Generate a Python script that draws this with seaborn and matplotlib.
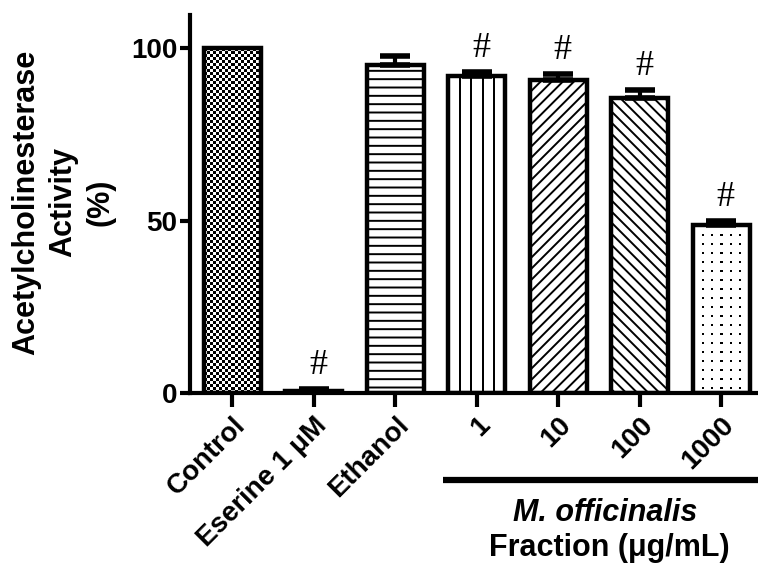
import numpy as np
import pandas as pd
import matplotlib
matplotlib.use("Agg")
import matplotlib.pyplot as plt
import seaborn as sns

# Acetylcholinesterase activity (% of control), mean and SEM per group
groups = ["Control", "Eserine 1 \u03bcM", "Ethanol", "1", "10", "100", "1000"]
activity = [100.0, 0.6, 95.2, 91.8, 90.8, 85.5, 48.7]
sem = [0.0, 0.5, 2.6, 1.4, 1.6, 2.4, 1.3]
significant = [False, True, False, True, True, True, True]
yticks = [0, 50, 100]

# fill style for each bar
fills = ["checker", "", "--", "vlines", "///", "\\\\\\", "dots"]

sns.set_style("ticks")
plt.rcParams["font.family"] = ["Liberation Sans", "DejaVu Sans"]
plt.rcParams["hatch.linewidth"] = 1.4
plt.rcParams["hatch.color"] = "black"
for key in ("text.color", "axes.labelcolor", "xtick.color", "ytick.color",
            "axes.edgecolor"):
    plt.rcParams[key] = "black"

df = pd.DataFrame({"group": groups, "activity": activity})

W, H = 758, 573
fig = plt.figure(figsize=(W / 100, H / 100), dpi=100)
ax = fig.add_axes([190 / W, 1 - 393 / H, 1 - 190 / W, (393 - 15) / H])

sns.barplot(data=df, x="group", y="activity", order=groups, color="white",
            edgecolor="black", linewidth=3.2, width=0.7, errorbar=None,
            saturation=1, ax=ax)

ax.set_xlim(-0.52, 6.45)
ax.set_ylim(0, 109.6)
fig.canvas.draw()

def pattern_image(kind, wpx, hpx):
    yy, xx = np.mgrid[0:hpx, 0:wpx]
    if kind == "checker":
        return ((xx // 3 + yy // 3) % 2).astype(float)
    if kind == "vlines":
        return np.where((xx % 11) < 2, 0.0, 1.0)
    if kind == "dots":
        return np.where(((xx % 9) < 2) & ((yy % 9) < 2), 0.0, 1.0)
    return np.ones((hpx, wpx))

for patch, fill in zip(ax.patches, fills):
    if fill in ("checker", "vlines", "dots"):
        x0, y0 = patch.get_x(), patch.get_y()
        w, h = patch.get_width(), patch.get_height()
        bb = patch.get_window_extent()
        img = pattern_image(fill, max(int(round(bb.width)), 1),
                            max(int(round(bb.height)), 1))
        im = ax.imshow(img, extent=[x0, x0 + w, y0, y0 + h], aspect="auto",
                       cmap="gray", vmin=0, vmax=1, interpolation="nearest",
                       origin="upper", zorder=patch.get_zorder() - 0.1)
        im.set_clip_path(patch)
        patch.set_facecolor("none")
    elif fill:
        patch.set_hatch(fill)
ax.set_xlim(-0.52, 6.45)
ax.set_ylim(0, 109.6)

# one-sided (upper) SEM bars
xpos = np.arange(len(groups))
for x, m, s in zip(xpos, activity, sem):
    if s > 0:
        ax.errorbar(x, m, yerr=[[0], [s]], fmt="none", ecolor="black",
                    elinewidth=3, capsize=11, capthick=4, zorder=4)

# significance markers
for x, m, s, sig in zip(xpos, activity, sem, significant):
    if sig:
        ax.annotate("#", xy=(x, m + s), xytext=(3, 5), textcoords="offset points",
                    ha="center", va="bottom", fontsize=26,
                    family=["Liberation Serif", "DejaVu Serif"])

ax.set_yticks(yticks)
ax.set_xticks(xpos)
ax.set_xticklabels(groups, rotation=45, ha="right", va="top",
                   rotation_mode="anchor")
for lab in ax.get_xticklabels() + ax.get_yticklabels():
    lab.set_fontsize(20)
    lab.set_fontweight("bold")

ax.tick_params(axis="y", length=7, width=3, pad=2, direction="out")
ax.tick_params(axis="x", length=10, width=3, pad=4, direction="out")
ax.set_xlabel("")
ax.set_ylabel("Acetylcholinesterase\nActivity\n(%)", fontsize=22,
              fontweight="bold", linespacing=1.3)
ax.yaxis.set_label_coords(-0.132, 0.505)

for side in ("top", "right"):
    ax.spines[side].set_visible(False)
for side in ("left", "bottom"):
    ax.spines[side].set_linewidth(3)
    ax.spines[side].set_color("black")

# group bracket for the fraction concentrations
ax.plot([2.59, 6.6], [-0.23, -0.23], transform=ax.get_xaxis_transform(),
        color="black", lw=4.5, solid_capstyle="butt", clip_on=False)
ax.text(4.58, -0.318, "M. officinalis", transform=ax.get_xaxis_transform(),
        ha="center", va="center", fontsize=22, fontweight="bold",
        fontstyle="italic")
ax.text(4.62, -0.41, "Fraction (\u03bcg/mL)", transform=ax.get_xaxis_transform(),
        ha="center", va="center", fontsize=22, fontweight="bold")

fig.savefig("out.png", dpi=100)
